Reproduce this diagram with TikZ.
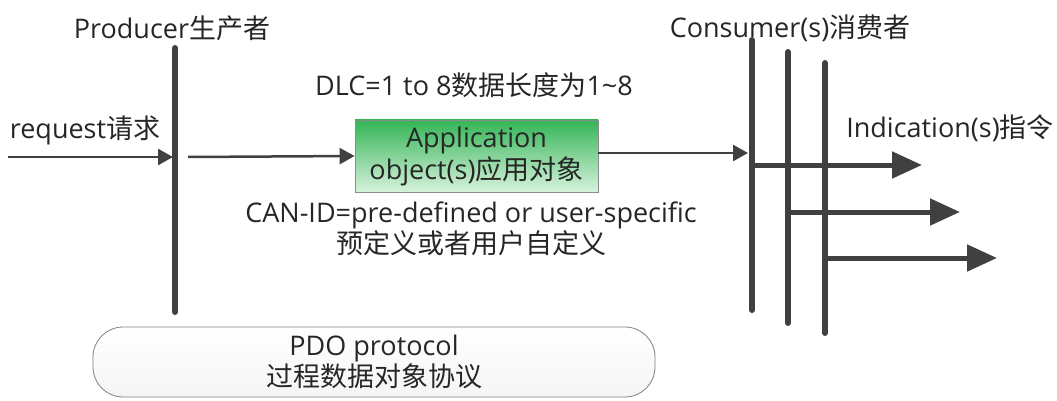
\documentclass[tikz,border=0pt]{standalone}
\usepackage{fontspec}
\setmainfont{Open Sans}
\newfontfamily\zhf{Noto Sans CJK SC}
\newcommand{\zh}[1]{{\zhf #1}}
\usetikzlibrary{arrows.meta}
\definecolor{ln}{HTML}{404040}
\definecolor{gtop}{HTML}{34B556}
\definecolor{gbot}{HTML}{D6F2DC}
\tikzset{
  txt/.style={font=\fontsize{27}{30}\selectfont, text=black!85, inner sep=0pt, align=center},
  bar/.style={draw=ln, line width=6pt, line cap=round},
  sarrow/.style={draw=ln, line width=2.5pt, -{Triangle[length=15pt,width=16pt]}},
  barrow/.style={draw=ln, line width=5pt, -{Triangle[length=30pt,width=26pt]}},
}
\begin{document}
\begin{tikzpicture}[x=1pt,y=-1pt]
\useasboundingbox (0,0) rectangle (1057,401);
% producer
\coordinate (pt) at (175,48);
\coordinate (pb) at (175,312);
\draw[bar] (pt) -- (pb);
\node[txt] (prod) at (172,28) {Producer\zh{生产者}};
\node[txt] (req) at (85,130) {request\zh{请求}};
\coordinate (rs) at (8,157);
\coordinate (re) at (173,157);
\draw[sarrow] (rs) -- (re);
\coordinate (as) at (188,157);
% green box
\node[draw=black!45, line width=0.8pt, top color=gtop, bottom color=gbot, minimum width=243pt, minimum height=72pt, inner sep=0pt, align=center, font=\fontsize{27}{32}\selectfont, text=black!85] (app) at (476.5,156) {Application\\object(s)\zh{应用对象}};
\draw[sarrow] (as) -- (app.west);
\node[txt] (dlc) at (474,85) {DLC=1 to 8\zh{数据长度为}1\textasciitilde 8};
\node[txt, font=\fontsize{27}{28}\selectfont] (can) at (471,229) {CAN-ID=pre-defined or user-specific\\\zh{预定义或者用户自定义}};
% consumers
\coordinate (c1t) at (752,40);
\coordinate (c1b) at (752,310);
\coordinate (c2t) at (788,52);
\coordinate (c2b) at (788,323);
\coordinate (c3t) at (825,63);
\coordinate (c3b) at (825,333);
\draw[bar] (c1t) -- (c1b);
\draw[bar] (c2t) -- (c2b);
\draw[bar] (c3t) -- (c3b);
\node[txt] (cons) at (790,28) {Consumer(s)\zh{消费者}};
\coordinate (ce) at (748,153);
\draw[sarrow] (app.east |- ce) -- (ce);
\node[txt] (ind) at (950,128) {Indication(s)\zh{指令}};
\coordinate (a1s) at (752,165);
\coordinate (a1e) at (922,165);
\coordinate (a2s) at (788,212);
\coordinate (a2e) at (960,212);
\coordinate (a3s) at (825,258);
\coordinate (a3e) at (997,258);
\draw[barrow] (a1s) -- (a1e);
\draw[barrow] (a2s) -- (a2e);
\draw[barrow] (a3s) -- (a3e);
% protocol box
\node[draw=black!50, line width=0.8pt, rounded corners=30pt, minimum width=562pt, minimum height=70pt, inner sep=0pt, align=center, font=\fontsize{27}{28}\selectfont, text=black!85, top color=white, bottom color=black!4] (pdo) at (374,362) {PDO protocol\\\zh{过程数据对象协议}};
\end{tikzpicture}
\end{document}
